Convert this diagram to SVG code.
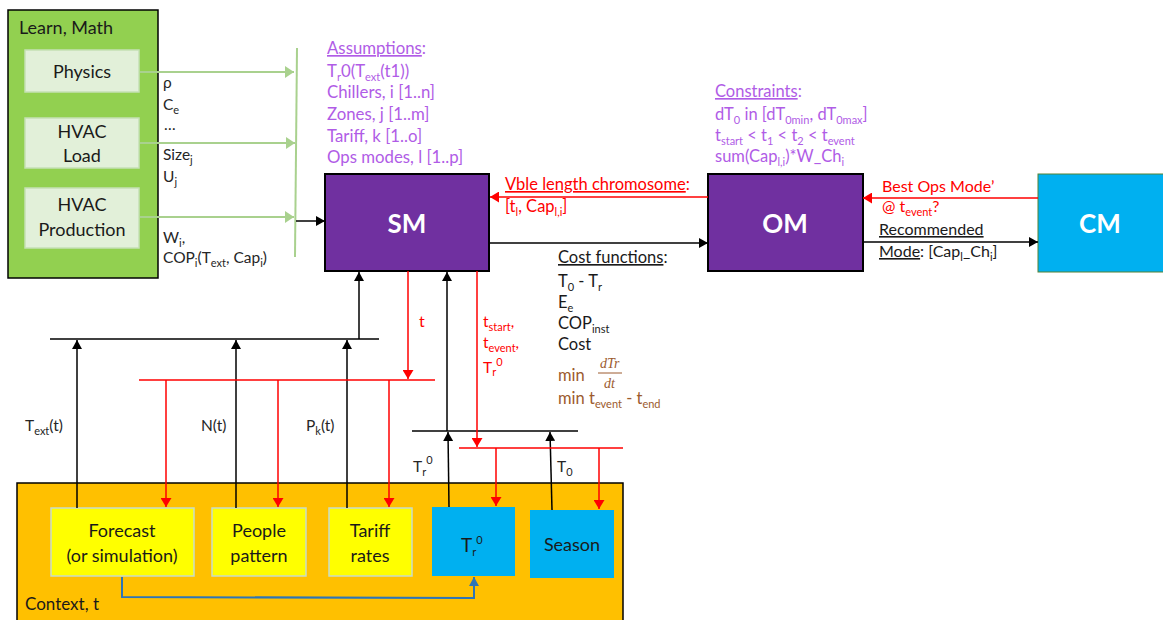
<svg xmlns="http://www.w3.org/2000/svg" width="1163" height="620" viewBox="0 0 1163 620">
<style>
text{font-family:Lato,"Open Sans","Liberation Sans",sans-serif;}
.lbl{font-size:15.5px;fill:#262626;}
.cf{font-size:16.5px;fill:#1a1a1a;}
.pur{font-size:16.8px;fill:#b05ce6;}
.red{font-size:16px;fill:#ff0000;}
.blk{font-size:16px;fill:#1a1a1a;}
.brn{font-size:16.5px;fill:#9c5b2e;}
.node{font-size:18px;fill:#1a1a1a;text-anchor:middle;}
.big{font-size:26px;font-weight:bold;fill:#ffffff;text-anchor:middle;}
.s{font-size:11px;}
.u{text-decoration:underline;}
.lk{stroke:#000;stroke-width:1.5;fill:none;}
.lr{stroke:#ff0000;stroke-width:1.5;fill:none;}
.lg{stroke:#a9d18e;stroke-width:2;fill:none;}
.lb{stroke:#2e75b6;stroke-width:2;fill:none;}
.frac{font-family:"Liberation Serif",serif;font-style:italic;font-size:14px;fill:#9c5b2e;}
</style>
<defs>
<marker id="ak" viewBox="0 0 9 10" refX="9" refY="5" markerWidth="9" markerHeight="10" orient="auto" markerUnits="userSpaceOnUse"><path d="M0,0 L9,5 L0,10 z" fill="#000"/></marker>
<marker id="ar" viewBox="0 0 9 11" refX="9" refY="5.5" markerWidth="9" markerHeight="11" orient="auto" markerUnits="userSpaceOnUse"><path d="M0,0 L9,5.5 L0,11 z" fill="#ff0000"/></marker>
<marker id="ag" viewBox="0 0 9 12" refX="9" refY="6" markerWidth="9" markerHeight="12" orient="auto" markerUnits="userSpaceOnUse"><path d="M0,0 L9,6 L0,12 z" fill="#a9d18e"/></marker>
<marker id="ab" viewBox="0 0 9 10" refX="9" refY="5" markerWidth="9" markerHeight="10" orient="auto" markerUnits="userSpaceOnUse"><path d="M0,0 L9,5 L0,10 z" fill="#2e75b6"/></marker>
</defs>
<rect width="1163" height="620" fill="#ffffff"/>

<g id="learn-math">
<rect x="8" y="10" width="150" height="268" fill="#92d050" stroke="#000" stroke-width="1.5"/>
<text x="19" y="34" style="font-size:18px;fill:#1a1a1a">Learn, Math</text>
</g>
<g id="physics">
<rect x="25" y="50" width="114" height="42" fill="#e2f0d9" stroke="#c5e0b4" stroke-width="1.5"/>
<text class="node" x="82" y="78">Physics</text>
</g>
<g id="hvac-load">
<rect x="25" y="118" width="114" height="50" fill="#e2f0d9" stroke="#c5e0b4" stroke-width="1.5"/>
<text class="node" x="82" y="138">HVAC</text>
<text class="node" x="82" y="162">Load</text>
</g>
<g id="hvac-production">
<rect x="25" y="188" width="114" height="60" fill="#e2f0d9" stroke="#c5e0b4" stroke-width="1.5"/>
<text class="node" x="82" y="211">HVAC</text>
<text class="node" x="82" y="236">Production</text>
</g>

<g id="sm">
<rect x="325" y="174" width="164" height="97" fill="#7030a0" stroke="#000" stroke-width="2"/>
<text class="big" x="407" y="233">SM</text>
</g>
<g id="om">
<rect x="708" y="174" width="155" height="97" fill="#7030a0" stroke="#000" stroke-width="2"/>
<text class="big" x="785" y="233">OM</text>
</g>
<g id="cm">
<rect x="1038" y="174" width="130" height="98" fill="#00b0f0" stroke="#548235" stroke-width="1"/>
<text class="big" x="1100" y="233">CM</text>
</g>

<g id="context">
<rect x="17" y="483" width="606" height="145" fill="#ffc000" stroke="#000" stroke-width="1.5"/>
<text x="25" y="610" style="font-size:17px;fill:#1a1a1a">Context, t</text>
</g>
<g id="forecast">
<rect x="51" y="508" width="143" height="68" fill="#ffff00" stroke="#c9dcc9" stroke-width="1.5"/>
<text class="node" x="122" y="537">Forecast</text>
<text class="node" x="122" y="562">(or simulation)</text>
</g>
<g id="people">
<rect x="212" y="508" width="94" height="68" fill="#ffff00" stroke="#c9dcc9" stroke-width="1.5"/>
<text class="node" x="259" y="537">People</text>
<text class="node" x="259" y="562">pattern</text>
</g>
<g id="tariff">
<rect x="329" y="508" width="83" height="68" fill="#ffff00" stroke="#c9dcc9" stroke-width="1.5"/>
<text class="node" x="370" y="537">Tariff</text>
<text class="node" x="370" y="562">rates</text>
</g>
<g id="tr0">
<rect x="432" y="507" width="83" height="69" fill="#00b0f0"/>
<text x="461" y="552" style="font-size:19px;fill:#1a1a1a">T<tspan class="s" dy="4">r</tspan><tspan class="s" dy="-12">0</tspan></text>
</g>
<g id="season">
<rect x="530" y="510" width="84" height="68" fill="#00b0f0"/>
<text class="node" x="572" y="551">Season</text>
</g>

<g id="connectors">
<line class="lg" x1="140" y1="72" x2="294" y2="72" marker-end="url(#ag)"/>
<line class="lg" x1="140" y1="143" x2="295" y2="143" marker-end="url(#ag)"/>
<line class="lg" x1="140" y1="217" x2="294" y2="217" marker-end="url(#ag)"/>
<line class="lg" x1="297" y1="48" x2="295" y2="257"/>
<line class="lk" x1="296" y1="221" x2="325" y2="221" marker-end="url(#ak)"/>
<line class="lr" x1="708" y1="197" x2="490" y2="197" marker-end="url(#ar)"/>
<line class="lk" x1="489" y1="243" x2="708" y2="243" marker-end="url(#ak)"/>
<line class="lr" x1="1038" y1="198" x2="863" y2="198" marker-end="url(#ar)"/>
<line class="lk" x1="863" y1="242" x2="1038" y2="242" marker-end="url(#ak)"/>
<line class="lk" x1="50" y1="339" x2="379" y2="339"/>
<line class="lk" x1="359" y1="339" x2="359" y2="272" marker-end="url(#ak)"/>
<line class="lk" x1="77" y1="508" x2="77" y2="340" marker-end="url(#ak)"/>
<line class="lk" x1="236" y1="508" x2="236" y2="340" marker-end="url(#ak)"/>
<line class="lk" x1="347" y1="508" x2="347" y2="340" marker-end="url(#ak)"/>
<line class="lr" x1="408" y1="271" x2="408" y2="379" marker-end="url(#ar)"/>
<line class="lr" x1="139" y1="380" x2="435" y2="380"/>
<line class="lr" x1="166" y1="380" x2="166" y2="507" marker-end="url(#ar)"/>
<line class="lr" x1="278" y1="380" x2="278" y2="507" marker-end="url(#ar)"/>
<line class="lr" x1="389" y1="380" x2="389" y2="507" marker-end="url(#ar)"/>
<line class="lk" x1="412" y1="431" x2="578" y2="431"/>
<line class="lk" x1="447" y1="431" x2="447" y2="272" marker-end="url(#ak)"/>
<line class="lk" x1="449" y1="507" x2="448" y2="432" marker-end="url(#ak)"/>
<line class="lk" x1="552" y1="510" x2="550" y2="432" marker-end="url(#ak)"/>
<line class="lr" x1="477" y1="271" x2="477" y2="447" marker-end="url(#ar)"/>
<line class="lr" x1="459" y1="448" x2="623" y2="448"/>
<line class="lr" x1="496" y1="448" x2="496" y2="506" marker-end="url(#ar)"/>
<line class="lr" x1="599" y1="448" x2="599" y2="509" marker-end="url(#ar)"/>
<path class="lb" d="M122,577 L122,597 L474,598 L474,577" marker-end="url(#ab)"/>
</g>

<g id="labels">
<text class="lbl" x="163" y="88">ρ</text>
<text class="lbl" x="163" y="110">C<tspan class="s" dy="4">e</tspan></text>
<text class="lbl" x="164" y="130">…</text>
<text class="lbl" x="163" y="160">Size<tspan class="s" dy="4">j</tspan></text>
<text class="lbl" x="163" y="182">U<tspan class="s" dy="4">j</tspan></text>
<text class="lbl" x="163" y="243">W<tspan class="s" dy="4">i</tspan><tspan dy="-4">,</tspan></text>
<text class="lbl" x="163" y="263">COP<tspan class="s" dy="4">i</tspan><tspan dy="-4">(T</tspan><tspan class="s" dy="4">ext</tspan><tspan dy="-4">,  Cap</tspan><tspan class="s" dy="4">i</tspan><tspan dy="-4">)</tspan></text>

<text class="pur" x="327" y="54"><tspan class="u">Assumptions</tspan>:</text>
<text class="pur" x="327" y="77">T<tspan class="s" dy="4">r</tspan><tspan dy="-4">0(T</tspan><tspan class="s" dy="4">ext</tspan><tspan dy="-4">(t1))</tspan></text>
<text class="pur" x="327" y="98">Chillers, i [1..n]</text>
<text class="pur" x="327" y="120">Zones, j [1..m]</text>
<text class="pur" x="327" y="142">Tariff, k [1..o]</text>
<text class="pur" x="327" y="163">Ops modes, l [1..p]</text>

<text class="pur" x="715" y="97" style="font-size:16.5px"><tspan class="u">Constraints</tspan>:</text>
<text class="pur" x="715" y="120" style="font-size:16.5px">dT<tspan class="s" dy="4">0</tspan><tspan dy="-4"> in [dT</tspan><tspan class="s" dy="4">0min</tspan><tspan dy="-4">, dT</tspan><tspan class="s" dy="4">0max</tspan><tspan dy="-4">]</tspan></text>
<text class="pur" x="715" y="141" style="font-size:16.5px">t<tspan class="s" dy="4">start</tspan><tspan dy="-4"> &lt; t</tspan><tspan class="s" dy="4">1</tspan><tspan dy="-4"> &lt; t</tspan><tspan class="s" dy="4">2</tspan><tspan dy="-4"> &lt; t</tspan><tspan class="s" dy="4">event</tspan></text>
<text class="pur" x="715" y="162" style="font-size:16.5px">sum(Cap<tspan class="s" dy="4">l,i</tspan><tspan dy="-4">)*W_Ch</tspan><tspan class="s" dy="4">i</tspan></text>

<text class="red" x="505" y="190" style="font-size:16.5px"><tspan class="u">Vble length chromosome</tspan>:</text>
<text class="red" x="505" y="212" style="font-size:16.5px">[t<tspan class="s" dy="4">l</tspan><tspan dy="-4">, Cap</tspan><tspan class="s" dy="4">l,i</tspan><tspan dy="-4">]</tspan></text>

<text class="red" x="882" y="192">Best Ops Mode’</text>
<text class="red" x="882" y="212">@ t<tspan class="s" dy="4">event</tspan><tspan dy="-4">?</tspan></text>
<text class="blk" x="879" y="235"><tspan class="u">Recommended</tspan></text>
<text class="blk" x="879" y="257"><tspan class="u">Mode</tspan>: [Cap<tspan class="s" dy="4">l</tspan><tspan dy="-4">_Ch</tspan><tspan class="s" dy="4">i</tspan><tspan dy="-4">]</tspan></text>

<text class="cf" x="558" y="263"><tspan class="u">Cost functions</tspan>:</text>
<text class="cf" x="558" y="287">T<tspan class="s" dy="4">0</tspan><tspan dy="-4"> - T</tspan><tspan class="s" dy="4">r</tspan></text>
<text class="cf" x="558" y="308">E<tspan class="s" dy="4">e</tspan></text>
<text class="cf" x="558" y="329">COP<tspan class="s" dy="4">inst</tspan></text>
<text class="cf" x="558" y="350">Cost</text>
<text class="brn" x="558" y="381">min</text>
<text class="frac" x="600" y="368">dTr</text>
<line x1="598" y1="373" x2="622" y2="373" stroke="#9c5b2e" stroke-width="1"/>
<text class="frac" x="604" y="388">dt</text>
<text class="brn" x="558" y="404">min t<tspan class="s" dy="4">event</tspan><tspan dy="-4"> - t</tspan><tspan class="s" dy="4">end</tspan></text>

<text class="red" x="419" y="327">t</text>
<text class="red" x="483" y="327" style="font-size:15.5px">t<tspan class="s" dy="4">start</tspan><tspan dy="-4">,</tspan></text>
<text class="red" x="483" y="348" style="font-size:15.5px">t<tspan class="s" dy="4">event</tspan><tspan dy="-4">,</tspan></text>
<text class="red" x="483" y="373" style="font-size:15.5px">T<tspan class="s" dy="3">r</tspan><tspan class="s" dy="-10">0</tspan></text>

<text class="lbl" x="25" y="431">T<tspan class="s" dy="4">ext</tspan><tspan dy="-4">(t)</tspan></text>
<text class="lbl" x="201" y="431">N(t)</text>
<text class="lbl" x="306" y="431">P<tspan class="s" dy="4">k</tspan><tspan dy="-4">(t)</tspan></text>
<text class="lbl" x="413" y="472">T<tspan class="s" dy="4">r</tspan><tspan class="s" dy="-12">0</tspan></text>
<text class="lbl" x="557" y="472">T<tspan class="s" dy="4">0</tspan></text>
</g>
</svg>
